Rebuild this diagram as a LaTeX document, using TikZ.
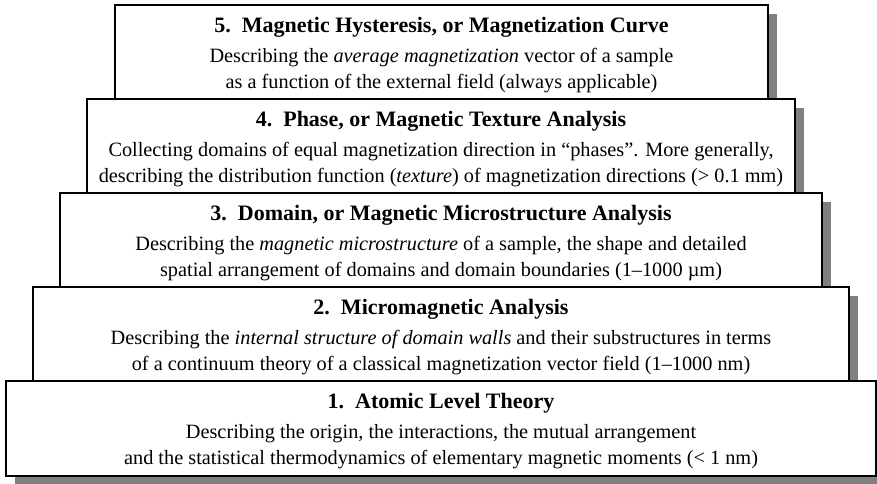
\documentclass[tikz,border=0pt]{standalone}
\usepackage{fontspec}
\setmainfont{Liberation Serif}
\usepackage{xcolor}
\usepackage{tikz}
\usetikzlibrary{shadows}
\definecolor{shadowgray}{HTML}{808080}

\newcommand{\leveltitle}[1]{{\fontsize{22}{26}\selectfont\bfseries #1}\\[4pt]}

\begin{document}
\begin{tikzpicture}[x=1pt, y=-1pt,
    levelbox/.style={draw=black, line width=1.5pt, fill=white,
        minimum height=94pt, inner sep=0pt,
        general shadow={shadow xshift=9pt, shadow yshift=-9pt, fill=shadowgray, draw=none}},
    leveltext/.style={align=center, inner sep=0pt, font=\fontsize{20.3}{26}\selectfont}]
    \useasboundingbox (0,0) rectangle (877,483);

    % Nivel 5
    \node[levelbox, minimum width=653pt] (lvl5) at (441.5,52) {};
    \node[leveltext] (lvl5text) at ([yshift=-3pt]lvl5.center) {\leveltitle{5.\ \ Magnetic Hysteresis, or Magnetization Curve}Describing the \textit{average magnetization} vector of a sample\\as a function of the external field (always applicable)};

    % Nivel 4
    \node[levelbox, minimum width=708pt] (lvl4) at (441,146) {};
    \node[leveltext] (lvl4text) at ([yshift=-3pt]lvl4.center) {\leveltitle{4.\ \ Phase, or Magnetic Texture Analysis}Collecting domains of equal magnetization direction in “phases”. More generally,\\describing the distribution function (\textit{texture}) of magnetization directions (> 0.1 mm)};

    % Nivel 3
    \node[levelbox, minimum width=762pt] (lvl3) at (441,240) {};
    \node[leveltext] (lvl3text) at ([yshift=-3pt]lvl3.center) {\leveltitle{3.\ \ Domain, or Magnetic Microstructure Analysis}Describing the \textit{magnetic microstructure} of a sample, the shape and detailed\\spatial arrangement of domains and domain boundaries (1–1000 µm)};

    % Nivel 2
    \node[levelbox, minimum width=816pt] (lvl2) at (441,334) {};
    \node[leveltext] (lvl2text) at ([yshift=-3pt]lvl2.center) {\leveltitle{2.\ \ Micromagnetic Analysis}Describing the \textit{internal structure of domain walls} and their substructures in terms\\of a continuum theory of a classical magnetization vector field (1–1000 nm)};

    % Nivel 1
    \node[levelbox, minimum width=870pt, minimum height=95pt] (lvl1) at (441,428.5) {};
    \node[leveltext] (lvl1text) at ([yshift=-3pt]lvl1.center) {\leveltitle{1.\ \ Atomic Level Theory}Describing the origin, the interactions, the mutual arrangement\\and the statistical thermodynamics of elementary magnetic moments (< 1 nm)};
\end{tikzpicture}
\end{document}
